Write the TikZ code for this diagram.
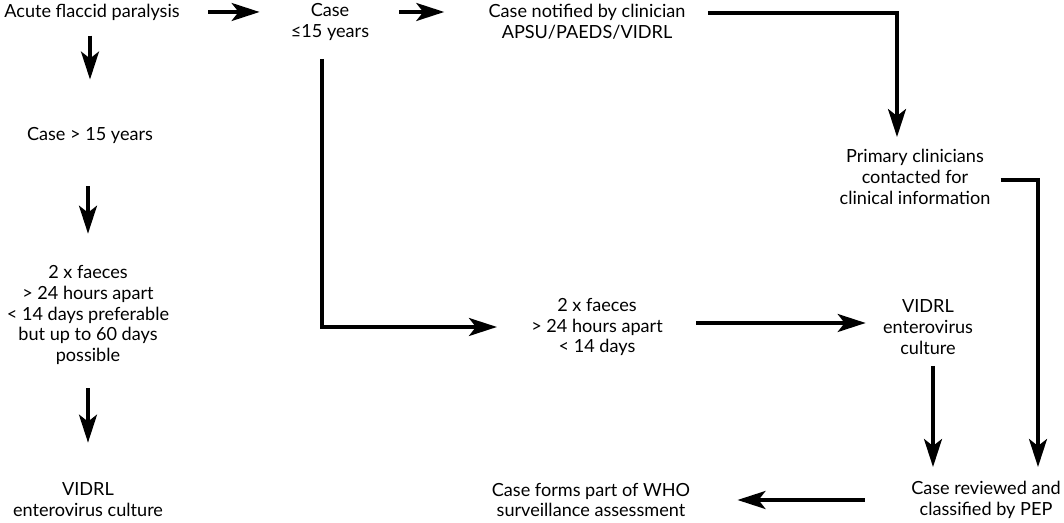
\documentclass[tikz,border=0pt]{standalone}
\usepackage{fontspec}
\setmainfont{Lato}
\usepackage{tikz}
\usetikzlibrary{positioning, arrows.meta}
\tikzstyle{arrow} = [line width=1.9pt,->,>={Stealth[length=0.56cm,width=0.36cm,inset=0.14cm]}]

\begin{document}
\begin{tikzpicture}
                \tikzstyle{every node}=[font=\fontsize{10.3}{11.9}\selectfont]
                \tikzstyle{step box} = [align=center, inner sep=0pt]
                \useasboundingbox (0,0) rectangle (21.28,10.46);

                % under 15 branch
                \node[step box](afp) at (1.84,10.22) {Acute flaccid paralysis};
                \node[step box](case15) at (6.6,10.02) {Case\\≤15 years};
                \node[step box](notified) at (11.74,10.02) {Case notified by clinician\\APSU/PAEDS/VIDRL};
                \node[step box](primary) at (18.3,6.92) {Primary clinicians\\contacted for\\clinical information};
                \node[step box](faecesB) at (11.94,3.92) {2 x faeces\\> 24 hours apart\\< 14 days};
                \node[step box](vidrlB) at (18.56,3.92) {VIDRL\\enterovirus\\culture};
                \node[step box](reviewed) at (19.72,0.46) {Case reviewed and\\classified by PEP};
                \node[step box](who) at (11.82,0.46) {Case forms part of WHO\\surveillance assessment};

                % over 15 branch
                \node[step box](older) at (1.8,7.74) {Case > 15 years};
                \node[step box](faecesA) at (1.76,4.16) {2 x faeces\\> 24 hours apart\\< 14 days preferable\\but up to 60 days\\possible};
                \node[step box](vidrlA) at (1.76,0.46) {VIDRL\\enterovirus culture};

                \draw[arrow, shorten <=0.56cm, shorten >=0.62cm] (afp.east) -- (afp.east -| case15.west);
                \draw[arrow, shorten <=0.6cm, shorten >=0.88cm] ([yshift=0.2cm]case15.east) -- ([yshift=0.2cm]case15.east -| notified.west);
                \draw[arrow, shorten <=0.44cm, shorten >=0.24cm] ([yshift=0.18cm]notified.east) -| ([xshift=-0.36cm]primary.north);
                \draw[arrow, shorten <=0.2cm, shorten >=0.28cm] ([yshift=-0.06cm]primary.east) -| ([xshift=1.04cm]reviewed.north);
                \draw[arrow, shorten <=0.36cm, shorten >=0.68cm] ([xshift=-0.16cm]case15.south) |- (faecesB.west);
                \draw[arrow, shorten <=0.66cm, shorten >=0.34cm] ([yshift=0.08cm]faecesB.east) -- ([yshift=0.08cm]faecesB.east -| vidrlB.west);
                \draw[arrow, shorten <=0.22cm, shorten >=0.28cm] ([xshift=0.1cm]vidrlB.south) -- ([xshift=0.1cm]vidrlB.south |- reviewed.north);
                \draw[arrow, shorten <=0.92cm, shorten >=0.94cm] (reviewed.west) -- (reviewed.west -| who.east);

                \draw[arrow, shorten <=0.3cm, shorten >=0.96cm] (older.north |- afp.south) -- (older.north);
                \draw[arrow, shorten <=0.84cm, shorten >=0.62cm] (faecesA.north |- older.south) -- (faecesA.north);
                \draw[arrow, shorten <=0.46cm, shorten >=0.8cm] (vidrlA.north |- faecesA.south) -- (vidrlA.north);
\end{tikzpicture}
\end{document}
